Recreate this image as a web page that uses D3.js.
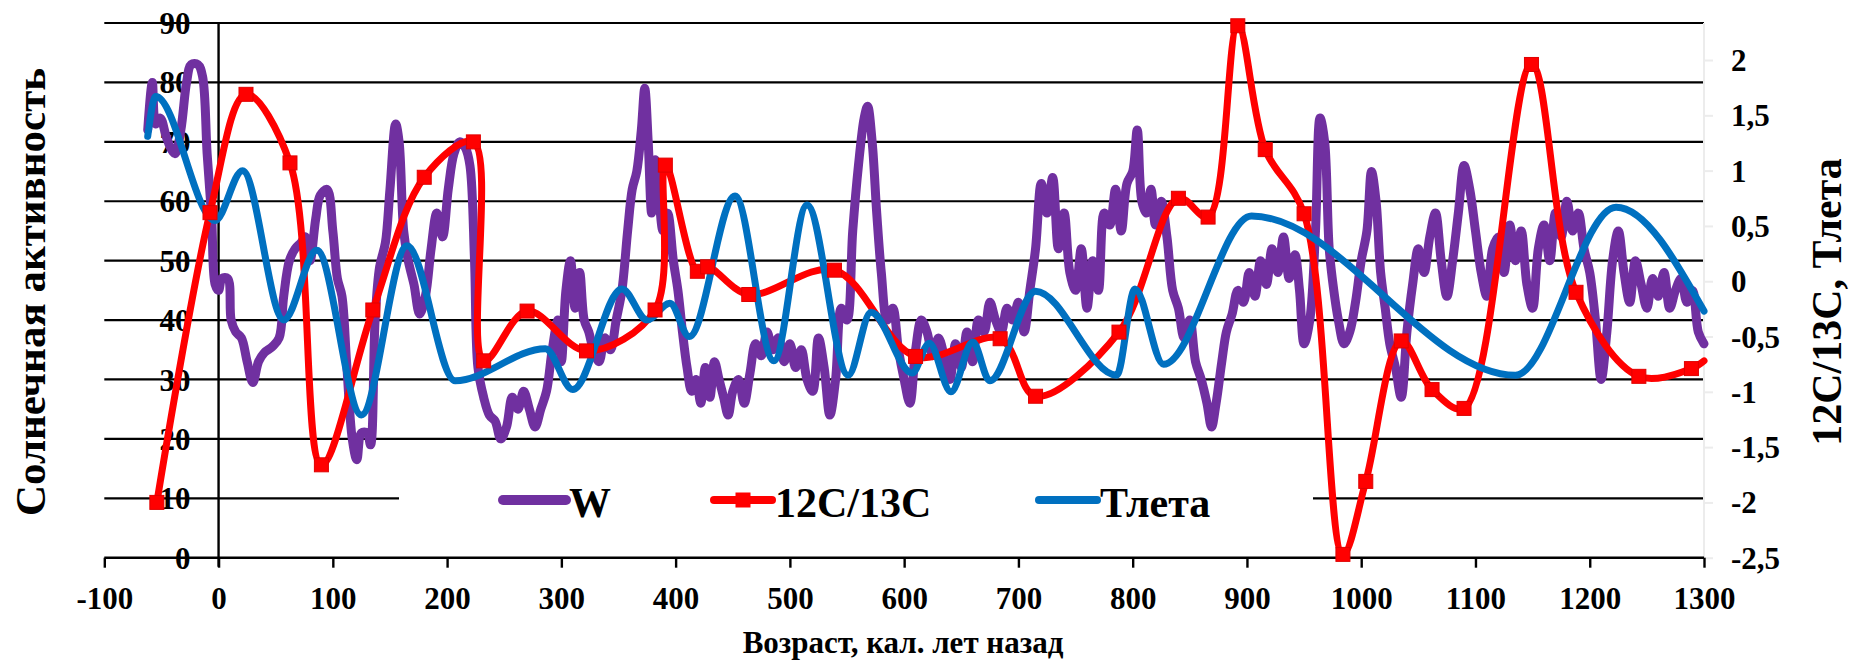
<!DOCTYPE html>
<html><head><meta charset="utf-8">
<script src="https://cdn.jsdelivr.net/npm/d3@7"></script>
<style>
html,body{margin:0;padding:0;background:#fff;}
svg{display:block;}
text{font-family:"Liberation Serif","Times New Roman",serif;font-weight:bold;fill:#000;}
</style></head><body>
<svg id="c" width="1852" height="661"></svg>
<script>
// ---- data ----
const xTicks = [-100,0,100,200,300,400,500,600,700,800,900,1000,1100,1200,1300];
const leftTicks = [0,10,20,30,40,50,60,70,80,90];
const rightTicks = [-2.5,-2,-1.5,-1,-0.5,0,0.5,1,1.5,2];
const seriesNames = ["W","12C/13C","Тлета"];

// W (solar activity, left axis)
const wYears = [-62,-58,-55,-51,-46,-42,-38,-33,-28,-24,-18,-14,-10,-6,-3,0,3,8,11,15,20,25,30,35,40,47,53,57,62,67,72,76,80,85,89,95,100,104,108,112,117,121,125,130,133,137,141,146,150,155,158,162,166,171,176,181,186,191,196,201,206,211,216,220,224,227,232,237,242,247,252,257,262,267,272,277,282,287,292,297,300,304,308,312,316,320,324,328,333,338,343,348,353,358,362,366,370,373,376,379,382,385,389,393,398,402,406,410,414,418,422,426,430,434,438,442,446,450,455,460,465,470,475,480,485,490,495,500,505,510,515,520,525,530,535,540,545,550,555,560,565,568,572,576,580,585,590,595,600,605,610,615,620,625,630,635,640,645,650,655,660,665,670,675,680,685,690,695,700,705,710,715,720,725,730,735,740,745,750,755,760,765,770,775,780,785,790,795,800,804,808,812,816,820,825,830,835,840,845,850,855,860,865,869,873,878,882,887,892,897,902,907,912,917,922,927,932,937,942,946,950,955,960,964,968,972,976,980,985,990,995,1000,1005,1009,1013,1017,1021,1025,1030,1035,1040,1045,1050,1055,1060,1065,1070,1075,1080,1085,1090,1095,1100,1105,1110,1115,1120,1125,1130,1135,1140,1145,1150,1155,1160,1165,1170,1175,1180,1185,1190,1195,1200,1205,1210,1215,1220,1225,1230,1235,1240,1245,1250,1255,1260,1265,1270,1275,1280,1285,1290,1295,1300];
const wValues = [72,80,73,74,71,69,68,72,80,83,83,81,68,57,46,45,47,47,40,38,37,33,29.5,33,34.5,35.5,37,44,50,52,53,54,50,57,61,62,55,47,44,33,20,16.5,21,21,19,40,49,53,62,73,70,55,50,46,41,44,52,58,54,62,68,70,69,66,50,32,27,24,23,20,22,27,25,28,25,22,25,28,35,40,33,45,50,42,48,40,38,35,33,37,35,40,45,55,62,65,72,79,70,58,67,62,55,58,50,45,38,32,28,30,26,32,27,33,30,27,24,28,30,26,31,36,34,38,35,37,33,36,32,35,30,28,37,32,24,30,42,40,55,66,74,76,70,58,48,40,42,35,30,26,35,40,38,34,37,34,30,36,32,38,33,40,38,43,40,38,42,40,43,38,45,52,63,58,64,52,58,48,45,52,42,50,45,58,56,62,55,63,65,72,60,58,62,56,60,54,45,42,37,40,33,30,26,22,26,33,38,41,45,43,48,44,50,46,52,48,54,47,51,45,36,40,55,74,70,52,45,40,36,38,43,50,55,65,60,48,42,36,32,27,38,46,52,48,54,58,50,44,50,58,66,62,55,48,44,52,54,48,56,50,55,46,42,52,56,50,58,54,60,55,58,52,48,40,30,38,50,55,48,43,50,46,42,47,44,48,42,45,47,43,45,38,36];

// 12C/13C (right axis, with markers)
const cYears = [-54,-7.5,24,62.5,90,135,180,223,232,270,322,382,391,419,428,464,539,610,684,715,788,840,866,892,916,950,984,1004,1035,1062,1090,1149,1188,1243,1289,1300];
const cValues = [-2.0,0.62,1.69,1.07,-1.66,-0.26,0.94,1.26,-0.72,-0.27,-0.63,-0.26,1.05,0.09,0.13,-0.12,0.10,-0.68,-0.52,-1.04,-0.46,0.75,0.58,2.31,1.19,0.61,-2.47,-1.81,-0.54,-0.98,-1.15,1.96,-0.10,-0.86,-0.79,-0.72];

// Тлета (right axis)
const tYears = [-62,-55,-3,21,57,86,125,165,207,286,310,353,375,395,412,452,486,515,551,571,607,622,641,660,675,715,786,802,827,904,1135,1223,1300];
const tValues = [1.31,1.67,0.55,1.0,-0.35,0.28,-1.21,0.32,-0.90,-0.61,-0.98,-0.07,-0.35,-0.2,-0.5,0.77,-0.72,0.69,-0.85,-0.28,-0.83,-0.56,-1.0,-0.55,-0.9,-0.09,-0.85,-0.07,-0.75,0.59,-0.85,0.67,-0.27];

// ---- layout ----
const svg = d3.select("#c");
const x = d3.scaleLinear().domain([-100,1300]).range([104.3,1704]);
const yL = d3.scaleLinear().domain([0,90]).range([557.7,23]);
const yR = d3.scaleLinear().domain([-2.5,2.335]).range([557.7,23]);
const fmt = d => String(d).replace(".", ",");

// gridlines
svg.append("g").selectAll("line").data(leftTicks.filter(d=>d>0)).join("line")
  .attr("x1",x(-100)).attr("x2",x(1300))
  .attr("y1",d=>yL(d)).attr("y2",d=>yL(d))
  .attr("stroke","#000").attr("stroke-width",2.2);

// right axis (light grey)
const gR = svg.append("g").attr("transform",`translate(${x(1300)},0)`)
  .call(d3.axisRight(yR).tickValues(rightTicks).tickSize(9).tickPadding(18).tickFormat(fmt));
gR.select(".domain").attr("stroke","#ececec").attr("stroke-width",2).attr("d",`M0,${yL(90)}V${yL(0)}`);
gR.selectAll(".tick line").attr("stroke","#ececec").attr("stroke-width",2);
gR.selectAll("text").style("font-size","31px").attr("fill","#000").attr("dy","0.34em");

// x axis
const gX = svg.append("g").attr("transform",`translate(0,${yL(0)})`)
  .call(d3.axisBottom(x).tickValues(xTicks).tickSize(10).tickPadding(19).tickFormat(d=>d));
gX.select(".domain").attr("stroke","#000").attr("stroke-width",2.4).attr("d",`M${x(-100)},0H${x(1300)}`);
gX.selectAll(".tick line").attr("stroke","#000").attr("stroke-width",2.4);
gX.selectAll("text").style("font-size","31px").attr("fill","#000");

// left axis at x=0
const gL = svg.append("g").attr("transform",`translate(${x(0)},0)`)
  .call(d3.axisLeft(yL).tickValues(leftTicks).tickSize(0).tickPadding(28).tickFormat(d=>d));
gL.select(".domain").attr("stroke","#000").attr("stroke-width",2.4).attr("d",`M0,${yL(90)}V${yL(0)+9}`);
gL.selectAll("text").style("font-size","31px").attr("fill","#000").attr("dy","0.34em");

// series
const wData = wYears.map((d,i)=>[d,wValues[i]]);
const cData = cYears.map((d,i)=>[d,cValues[i]]);
const tData = tYears.map((d,i)=>[d,tValues[i]]);

const lineW = d3.line().x(d=>x(d[0])).y(d=>yL(d[1])).curve(d3.curveCatmullRom.alpha(0.5));
const lineR = d3.line().x(d=>x(d[0])).y(d=>yR(d[1])).curve(d3.curveCatmullRom.alpha(0.5));
const lineT = d3.line().x(d=>x(d[0])).y(d=>yR(d[1])).curve(d3.curveMonotoneX);

svg.append("path").attr("d",lineW(wData)).attr("fill","none").attr("stroke","#7030A0")
  .attr("stroke-width",9).attr("stroke-linejoin","round").attr("stroke-linecap","round");
svg.append("path").attr("d",lineR(cData)).attr("fill","none").attr("stroke","#FF0000")
  .attr("stroke-width",7).attr("stroke-linejoin","round").attr("stroke-linecap","round");
svg.append("path").attr("d",lineT(tData)).attr("fill","none").attr("stroke","#0070C0")
  .attr("stroke-width",7).attr("stroke-linejoin","round").attr("stroke-linecap","round");
svg.append("g").selectAll("rect").data(cData.slice(0,-1)).join("rect")
  .attr("x",d=>x(d[0])-7).attr("y",d=>yR(d[1])-7).attr("width",14).attr("height",14)
  .attr("fill","#FF0000").attr("stroke","#e00000").attr("stroke-width",1);

// legend
const lg = svg.append("g");
lg.append("rect").attr("x",399).attr("y",466).attr("width",914).attr("height",66).attr("fill","#fff");
const items = [
  {name:seriesNames[0], color:"#7030A0", x1:503, x2:566, w:10, marker:false},
  {name:seriesNames[1], color:"#FF0000", x1:714, x2:772, w:8, marker:true},
  {name:seriesNames[2], color:"#0070C0", x1:1039, x2:1097, w:8, marker:false}
];
items.forEach(it=>{
  lg.append("line").attr("x1",it.x1).attr("x2",it.x2).attr("y1",500).attr("y2",500)
    .attr("stroke",it.color).attr("stroke-width",it.w).attr("stroke-linecap","round");
  if(it.marker) lg.append("rect").attr("x",(it.x1+it.x2)/2-7.5).attr("y",492.5).attr("width",15).attr("height",15).attr("fill",it.color);
  lg.append("text").attr("x",it.x2+3).attr("y",516.5).style("font-size","42px").text(it.name);
});

// axis titles
svg.append("text").attr("transform","translate(45,292) rotate(-90)").attr("text-anchor","middle")
  .style("font-size","43px").text("Солнечная активность");
svg.append("text").attr("transform","translate(1841,302) rotate(-90)").attr("text-anchor","middle")
  .style("font-size","42px").text("12C/13C, Тлета");
svg.append("text").attr("x",903).attr("y",653).attr("text-anchor","middle")
  .style("font-size","31px").text("Возраст, кал. лет назад");
</script></body></html>
